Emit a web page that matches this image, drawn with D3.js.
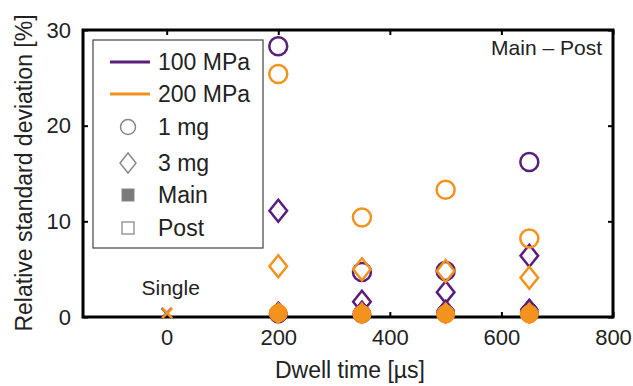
<!DOCTYPE html>
<html>
<head>
<meta charset="utf-8">
<script src="https://cdn.jsdelivr.net/npm/d3@7"></script>
<style>
  body { margin: 0; background: #fff; }
  text { font-family: "Liberation Sans", Arial, sans-serif; fill: #222; }
</style>
</head>
<body>
<div id="container"></div>
<script>
const WIDTH = 633;
const HEIGHT = 386;
const MARGIN = { top: 30, right: 20, bottom: 69, left: 83 };
const INNER_WIDTH = WIDTH - MARGIN.left - MARGIN.right;
const INNER_HEIGHT = HEIGHT - MARGIN.top - MARGIN.bottom;

// Data
const dwellTimes = [200, 350, 500, 650];
const xTicks = [0, 200, 400, 600, 800];
const yTicks = [0, 10, 20, 30];
const singleValue = { '100 MPa': 0.4, '200 MPa': 0.4 };
// Post (open markers)
const post100_1mg = [28.3, 4.7, 4.8, 16.2];
const post100_3mg = [11.1, 1.6, 2.6, 6.4];
const post200_1mg = [25.4, 10.4, 13.3, 8.2];
const post200_3mg = [5.3, 5.0, 4.8, 4.1];
// Main (filled markers)
const main100_1mg = [0.3, 0.3, 0.4, 0.5];
const main100_3mg = [0.5, 0.6, 0.7, 0.8];
const main200_1mg = [0.4, 0.3, 0.3, 0.3];
const main200_3mg = [0.4, 0.4, 0.4, 0.4];

const PURPLE = '#5a1f7c';
const ORANGE = '#f4921e';

const svg = d3.select('#container').append('svg')
    .attr('width', WIDTH)
    .attr('height', HEIGHT)
    .append('g')
    .attr('transform', 'translate(' + MARGIN.left + ',' + MARGIN.top + ')');

// Scales
const x = d3.scaleLinear().domain([-150, 800]).range([0, INNER_WIDTH]);
const y = d3.scaleLinear().domain([0, 30]).range([INNER_HEIGHT, 0]);

// Inward ticks on all four sides
function tickAxis(axis, transform) {
  const g = svg.append('g').attr('transform', transform).call(axis);
  g.select('.domain').remove();
  g.selectAll('.tick line').attr('stroke', '#000').attr('stroke-width', 2);
  return g;
}
const xb = tickAxis(d3.axisBottom(x).tickValues(xTicks).tickSize(-5).tickPadding(12), 'translate(0,' + INNER_HEIGHT + ')');
xb.selectAll('text').attr('font-size', 22).attr('fill', '#222').attr('font-family', '"Liberation Sans", Arial, sans-serif');
tickAxis(d3.axisTop(x).tickValues(xTicks).tickSize(-5).tickFormat(''), 'translate(0,0)');
const yl = tickAxis(d3.axisLeft(y).tickValues(yTicks).tickSize(-5).tickPadding(12), 'translate(0,0)');
yl.selectAll('text').attr('font-size', 22).attr('fill', '#222').attr('font-family', '"Liberation Sans", Arial, sans-serif');
tickAxis(d3.axisRight(y).tickValues(yTicks).tickSize(-5).tickFormat(''), 'translate(' + INNER_WIDTH + ',0)');

// Frame
svg.append('rect')
    .attr('width', INNER_WIDTH).attr('height', INNER_HEIGHT)
    .attr('fill', 'none').attr('stroke', '#000').attr('stroke-width', 3);

// Axis labels
svg.append('text')
    .attr('x', INNER_WIDTH / 2 + 2).attr('y', INNER_HEIGHT + 61)
    .attr('text-anchor', 'middle').attr('font-size', 23)
    .text('Dwell time [\u00b5s]');
svg.append('text')
    .attr('transform', 'translate(' + (-51) + ',' + 143 + ') rotate(-90)')
    .attr('text-anchor', 'middle').attr('font-size', 23)
    .text('Relative standard deviation [%]');

// Markers
const circle = d3.symbol().type(d3.symbolCircle).size(Math.PI * 81);
function diamondPath(r) {
  return 'M0,' + (-r) + 'L' + (r * 0.8) + ',0L0,' + r + 'L' + (-r * 0.8) + ',0Z';
}
function drawSeries(values, shape, color, filled) {
  svg.append('g').selectAll('path')
      .data(values)
      .join('path')
      .attr('transform', (d, i) => 'translate(' + x(dwellTimes[i]) + ',' + y(d) + ')')
      .attr('d', shape === 'circle' ? circle() : diamondPath(11))
      .attr('fill', filled ? color : 'none')
      .attr('stroke', color)
      .attr('stroke-width', filled ? 1 : 2.5);
}
drawSeries(main100_1mg, 'circle', PURPLE, true);
drawSeries(main100_3mg, 'diamond', PURPLE, true);
drawSeries(post100_1mg, 'circle', PURPLE, false);
drawSeries(post100_3mg, 'diamond', PURPLE, false);
drawSeries(post200_1mg, 'circle', ORANGE, false);
drawSeries(post200_3mg, 'diamond', ORANGE, false);
drawSeries(main200_1mg, 'circle', ORANGE, true);
drawSeries(main200_3mg, 'diamond', ORANGE, true);

// Single injection (x markers)
[['100 MPa', PURPLE], ['200 MPa', ORANGE]].forEach(([k, c], j) => {
  svg.append('path')
      .attr('transform', 'translate(' + (x(0) + j * 0.5) + ',' + y(singleValue[k]) + ')')
      .attr('d', 'M-5,-5L5,5M-5,5L5,-5')
      .attr('stroke', c).attr('stroke-width', 2.5).attr('fill', 'none');
});
svg.append('text')
    .attr('x', x(0) + 4).attr('y', y(0) - 22)
    .attr('text-anchor', 'middle').attr('font-size', 21)
    .text('Single');

svg.append('text')
    .attr('x', INNER_WIDTH - 11).attr('y', 25)
    .attr('text-anchor', 'end').attr('font-size', 21)
    .text('Main \u2013 Post');

// Legend
const legend = svg.append('g').attr('transform', 'translate(10,10)');
legend.append('rect')
    .attr('width', 170).attr('height', 208)
    .attr('fill', '#fff').attr('stroke', '#444').attr('stroke-width', 1.2);
const legendItems = [
  { label: '100 MPa', kind: 'line', color: PURPLE },
  { label: '200 MPa', kind: 'line', color: ORANGE },
  { label: '1 mg', kind: 'circle' },
  { label: '3 mg', kind: 'diamond' },
  { label: 'Main', kind: 'filled' },
  { label: 'Post', kind: 'open' }
];
const rowY = [22, 54, 87, 123, 155, 188];
legendItems.forEach((d, i) => {
  const g = legend.append('g').attr('transform', 'translate(0,' + rowY[i] + ')');
  if (d.kind === 'line') {
    g.append('line').attr('x1', 17).attr('x2', 57)
        .attr('stroke', d.color).attr('stroke-width', 3);
  } else if (d.kind === 'circle') {
    g.append('circle').attr('cx', 35).attr('r', 7.5)
        .attr('fill', 'none').attr('stroke', '#888').attr('stroke-width', 1.5);
  } else if (d.kind === 'diamond') {
    g.append('path').attr('transform', 'translate(35,0)').attr('d', diamondPath(10))
        .attr('fill', 'none').attr('stroke', '#888').attr('stroke-width', 1.5);
  } else if (d.kind === 'filled') {
    g.append('rect').attr('x', 29).attr('y', -6).attr('width', 12).attr('height', 12)
        .attr('fill', '#7a7a7a').attr('stroke', '#888');
  } else {
    g.append('rect').attr('x', 29).attr('y', -6).attr('width', 12).attr('height', 12)
        .attr('fill', 'none').attr('stroke', '#999').attr('stroke-width', 1.5);
  }
  g.append('text')
      .attr('x', 65).attr('y', 8)
      .attr('font-size', 23)
      .text(d.label);
});
</script>
</body>
</html>
